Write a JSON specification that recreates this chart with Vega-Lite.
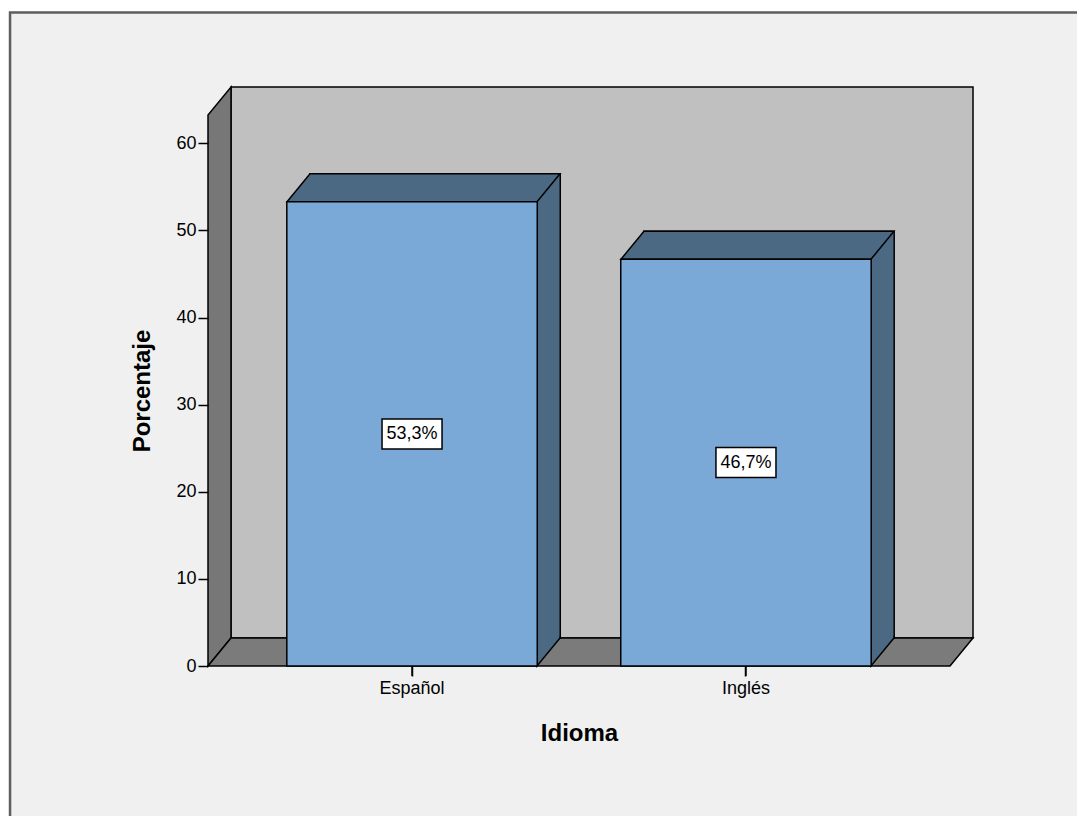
{
  "$schema": "https://vega.github.io/schema/vega-lite/v6.json",
  "width": 742,
  "height": 551,
  "autosize": {"type": "none"},
  "padding": {"left": 208, "top": 115, "right": 127, "bottom": 150},
  "background": "#ffffff",
  "config": {"view": {"stroke": null}, "font": "Liberation Sans"},
  "data": {"values": [
    {"Idioma": "Español", "Porcentaje": 53.3, "Etiqueta": "53,3%"},
    {"Idioma": "Inglés", "Porcentaje": 46.7, "Etiqueta": "46,7%"}
  ]},
  "resolve": {"scale": {"x": "independent"}},
  "layer": [
    {
      "data": {"values": [{"k": 0}]},
      "layer": [
        {
          "mark": {"type": "rect", "fill": "#f0f0f0", "stroke": "#5e5e5e", "strokeWidth": 2.5},
          "encoding": {
            "x": {"datum": -0.2668, "type": "quantitative", "scale": {"domain": [0, 1], "nice": false, "zero": false}, "axis": null},
            "x2": {"datum": 1.6},
            "y": {
              "datum": 75.03, "type": "quantitative", "scale": {"domain": [0, 63.26], "nice": false, "zero": false},
              "axis": {
                "title": "Porcentaje", "values": [0, 10, 20, 30, 40, 50, 60], "domain": false, "grid": false, "zindex": 1,
                "ticks": true, "tickSize": 10, "tickColor": "#000000", "tickWidth": 1.5,
                "labelFontSize": 18, "labelColor": "#000000", "labelPadding": 2,
                "titleFontSize": 24, "titleFontWeight": "bold", "titleColor": "#000000", "titlePadding": 21
              }
            },
            "y2": {"datum": -25}
          }
        },
        {
          "mark": {"type": "rect", "fill": "#c0c0c0", "stroke": "#000000", "strokeWidth": 1.5, "xOffset": 23, "x2Offset": 23, "yOffset": -28, "y2Offset": -28},
          "encoding": {
            "x": {"datum": 0, "type": "quantitative", "axis": null},
            "x2": {"datum": 1},
            "y": {"datum": 0, "type": "quantitative"},
            "y2": {"datum": 63.26}
          }
        },
        {
          "mark": {"type": "point", "shape": "M0,0 L0,-551 L23,-579 L23,-28 Z", "size": 4, "filled": true, "fill": "#777777", "stroke": "#000000", "strokeWidth": 1.5, "opacity": 1},
          "encoding": {
            "x": {"datum": 0, "type": "quantitative", "axis": null},
            "y": {"datum": 0, "type": "quantitative"}
          }
        },
        {
          "mark": {"type": "point", "shape": "M0,0 L742,0 L765,-28 L23,-28 Z", "size": 4, "filled": true, "fill": "#7b7b7b", "stroke": "#000000", "strokeWidth": 1.5, "opacity": 1},
          "encoding": {
            "x": {"datum": 0, "type": "quantitative", "axis": null},
            "y": {"datum": 0, "type": "quantitative"}
          }
        }
      ]
    },
    {
      "transform": [{"calculate": "datum.Porcentaje / 2", "as": "Mitad"}],
      "encoding": {
        "x": {
          "field": "Idioma", "type": "nominal", "sort": null,
          "scale": {"paddingInner": 0.25, "paddingOuter": 0.236},
          "axis": {
            "title": "Idioma", "labelAngle": 0, "domain": false, "grid": false, "zindex": 1,
            "ticks": true, "tickBand": "center", "tickOpacity": 1, "tickSize": 10, "tickColor": "#000000", "tickWidth": 1.5,
            "labelFontSize": 18, "labelColor": "#000000", "labelPadding": 3,
            "titleFontSize": 24, "titleFontWeight": "bold", "titleColor": "#000000", "titlePadding": 24
          }
        }
      },
      "layer": [
        {
          "mark": {"type": "bar", "fill": "#4b6983", "stroke": "#000000", "strokeWidth": 1.5, "xOffset": 23, "x2Offset": 23, "yOffset": -28, "y2Offset": -28},
          "encoding": {"y": {"field": "Porcentaje", "type": "quantitative"}}
        },
        {
          "mark": {"type": "point", "shape": "M-125,0 L125,0 L148,-28 L-102,-28 Z", "size": 4, "filled": true, "fill": "#4b6983", "stroke": "#000000", "strokeWidth": 1.5, "opacity": 1},
          "encoding": {"y": {"field": "Porcentaje", "type": "quantitative"}}
        },
        {
          "mark": {"type": "point", "shape": "M125,-30 L125,0 L148,-28 L148,-30", "size": 4, "filled": true, "fill": "#4b6983", "stroke": "#000000", "strokeWidth": 1.5, "opacity": 1},
          "encoding": {"y": {"datum": 0, "type": "quantitative"}}
        },
        {
          "mark": {"type": "bar", "fill": "#7aa8d7", "stroke": "#000000", "strokeWidth": 1.5},
          "encoding": {"y": {"field": "Porcentaje", "type": "quantitative"}}
        },
        {
          "mark": {"type": "rule", "color": "#000000", "strokeWidth": 1.5},
          "encoding": {"y": {"datum": 0, "type": "quantitative"}, "y2": {"datum": -1.15}}
        },
        {
          "mark": {"type": "point", "shape": "M-30,-15 L30,-15 L30,15 L-30,15 Z", "size": 4, "filled": true, "fill": "#ffffff", "stroke": "#000000", "strokeWidth": 1.5, "opacity": 1},
          "encoding": {"y": {"field": "Mitad", "type": "quantitative"}}
        },
        {
          "mark": {"type": "text", "fontSize": 18, "color": "#000000", "baseline": "middle", "align": "center"},
          "encoding": {
            "y": {"field": "Mitad", "type": "quantitative"},
            "text": {"field": "Etiqueta"}
          }
        }
      ]
    }
  ]
}
